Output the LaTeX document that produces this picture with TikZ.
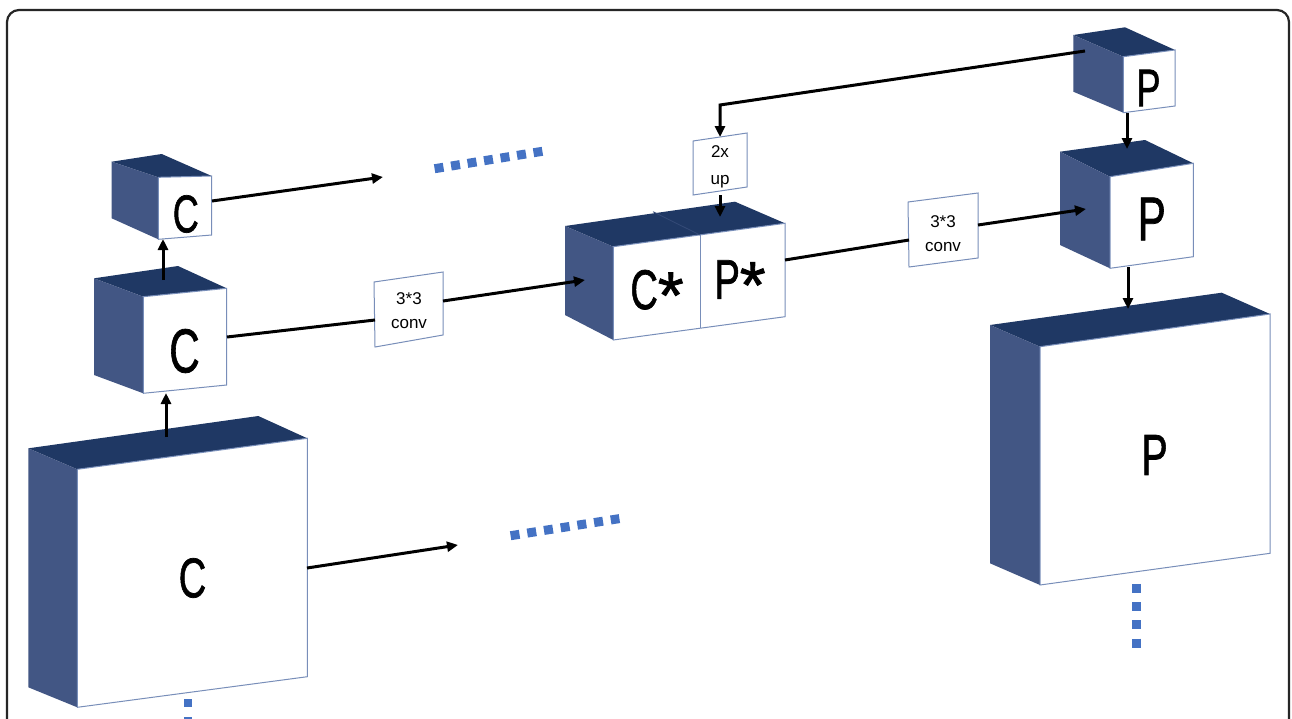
\documentclass[tikz,border=0pt]{standalone}
\usepackage{fontspec}
\setmainfont{Liberation Sans}
\newfontfamily\heavyfont[FakeBold=1.3]{Liberation Sans}
\usetikzlibrary{arrows.meta}
\definecolor{topc}{RGB}{31,56,100}
\definecolor{sidec}{RGB}{66,86,132}
\definecolor{edgec}{RGB}{120,142,185}
\definecolor{dotc}{RGB}{68,114,196}
\tikzset{
  topface/.style={fill=topc},
  sideface/.style={fill=sidec},
  frontface/.style={fill=white,draw=edgec,line width=1pt},
  convbox/.style={fill=white,draw=edgec,line width=1pt},
  conn/.style={line width=3pt,-{Triangle[length=11pt,width=10pt]}},
  plainline/.style={line width=3pt},
  dotline/.style={dotc,line width=9pt},
  bigtext/.style={inner sep=0pt},
  smalltext/.style={inner sep=0pt,align=center},
}
% #1 BLT, #2 BRT, #3 FLT, #4 FRT, #5 FRB, #6 FLB, #7 BLB
\newcommand\mycube[7]{%
  \fill[topface] #1 -- #2 -- #4 -- #3 -- cycle;
  \fill[sideface] #1 -- #3 -- #6 -- #7 -- cycle;
  \filldraw[frontface] #3 -- #4 -- #5 -- #6 -- cycle;
}
\newcommand\lbl[2]{\heavyfont\fontsize{#1}{#1}\selectfont\scalebox{0.68}[1]{#2}}
\newcommand\lblstar[2]{\heavyfont\fontsize{#1}{#1}\selectfont\scalebox{0.68}[1]{#2}\raisebox{-0.16em}{\fontsize{66}{66}\selectfont *}}
\begin{document}
\begin{tikzpicture}[x=1pt,y=-1pt]
\useasboundingbox (0,0) rectangle (1292,718);
\clip (0,0) rectangle (1292,718);
\fill[white] (0,0) rectangle (1292,718);
% frame
\draw[line width=2.2pt,rounded corners=12pt,black!85] (7,10) rectangle (1289,770);

% dotted continuations
\draw[dotline,dash pattern=on 9pt off 7.7pt] (434.6,168.7) -- (542.4,151.3);
\draw[dotline,dash pattern=on 9pt off 7.9pt] (510.6,535.7) -- (619.4,518.6);
\draw[dotline,dash pattern=on 9pt off 9.3pt] (1136,583.8) -- (1136,647.8);
\draw[dotline,line width=8pt,dash pattern=on 8pt off 10pt] (188,699) -- (188,740);

% cubes
\mycube{(111.7,161.7)}{(161.7,154)}{(158.3,177.3)}{(211.7,176)}{(211.7,235)}{(158.3,239.3)}{(111.7,218.3)}
\mycube{(94,278.3)}{(178,266)}{(143.3,296.7)}{(226.7,288.3)}{(226.7,385)}{(143.3,393.3)}{(94,375)}
\mycube{(28.3,448.3)}{(258.3,416)}{(77.3,469.3)}{(307.3,438.3)}{(307.3,676.7)}{(77.3,707.3)}{(28.3,687.3)}
\mycube{(565,226)}{(735,201.7)}{(613.3,246.7)}{(785,223.3)}{(785,316.7)}{(613.3,340)}{(565,315)}
\draw[edgec,line width=1pt] (700,235) -- (700,328.3);
\draw[sidec!60!topc,line width=0.8pt] (700,235) -- (653,211.7);
\mycube{(1073.3,35)}{(1125,27.3)}{(1123.3,56.7)}{(1175,50)}{(1175,106)}{(1123.3,112.7)}{(1073.3,91.7)}
\mycube{(1060,151.7)}{(1145,140)}{(1110,176.7)}{(1193.3,163.3)}{(1193.3,256.7)}{(1110,268.3)}{(1060,245)}
\mycube{(990,325)}{(1221.7,292.7)}{(1040,346.7)}{(1270,314)}{(1270,553.3)}{(1040,585)}{(990,563.3)}

% labels in cubes
\node[bigtext] (smC) at (185.8,214) {\lbl{53}{C}};
\node[bigtext] (midC) at (184.5,351) {\lbl{62}{C}};
\node[bigtext] (bigC) at (192.5,578) {\lbl{56}{C}};
\node[bigtext] (cstar) at (657,294) {\lblstar{56}{C}};
\node[bigtext] (pstar) at (740,284) {\lblstar{56}{P}};
\node[bigtext] (smP) at (1148.5,88) {\lbl{53}{P}};
\node[bigtext] (midP) at (1151.7,219) {\lbl{62}{P}};
\node[bigtext] (bigP) at (1154.5,455) {\lbl{58}{P}};

% operation boxes
\filldraw[convbox] (374,282) -- (443,272) -- (443,335) -- (375,347) -- cycle;
\node[smalltext,font=\fontsize{17}{24}\selectfont] (conv1) at (409,311) {3*3\\conv};
\filldraw[convbox] (908,202) -- (978,193) -- (978,258) -- (909,267) -- cycle;
\node[smalltext,font=\fontsize{17}{24}\selectfont] (conv2) at (943,234) {3*3\\conv};
\filldraw[convbox] (693,141) -- (747,133) -- (747,187) -- (693,195) -- cycle;
\node[smalltext,font=\fontsize{17}{27}\selectfont] (up) at (720,167) {2x\\up};

% connection points
\coordinate (bigCtop) at (166,437);
\coordinate (midCbot) at (166,393);
\coordinate (midCtop) at (163,280);
\coordinate (smCbot) at (163,239);
\coordinate (smCr) at (212,201);
\coordinate (smCend) at (383,177);
\coordinate (midCr) at (227,337);
\coordinate (conv1l) at (375,320);
\coordinate (conv1r) at (443,301);
\coordinate (cpside) at (585,280);
\coordinate (bigCr) at (307,568);
\coordinate (bigCend) at (458,545);
\coordinate (cpr) at (785,260);
\coordinate (conv2l) at (909,240);
\coordinate (conv2r) at (978,225);
\coordinate (midPside) at (1086,209);
\coordinate (smPside) at (1085,51);
\coordinate (bend) at (720,105);
\coordinate (uptop) at (720,137);
\coordinate (upbot) at (720,195);
\coordinate (cptop) at (720,217);
\coordinate (smPbot) at (1127,113);
\coordinate (midPtop) at (1127,149);
\coordinate (midPbot) at (1128,267);
\coordinate (bigPtop) at (1128,309);

% connectors
\draw[conn] (bigCtop) -- (midCbot);
\draw[conn] (midCtop) -- (smCbot);
\draw[conn] (smCr) -- (smCend);
\draw[plainline] (midCr) -- (conv1l);
\draw[conn] (conv1r) -- (cpside);
\draw[conn] (bigCr) -- (bigCend);
\draw[plainline] (cpr) -- (conv2l);
\draw[conn] (conv2r) -- (midPside);
\draw[conn] (smPside) -- (bend) -- (uptop);
\draw[conn] (upbot) -- (cptop);
\draw[conn] (smPbot) -- (midPtop);
\draw[conn] (midPbot) -- (bigPtop);
\end{tikzpicture}
\end{document}
